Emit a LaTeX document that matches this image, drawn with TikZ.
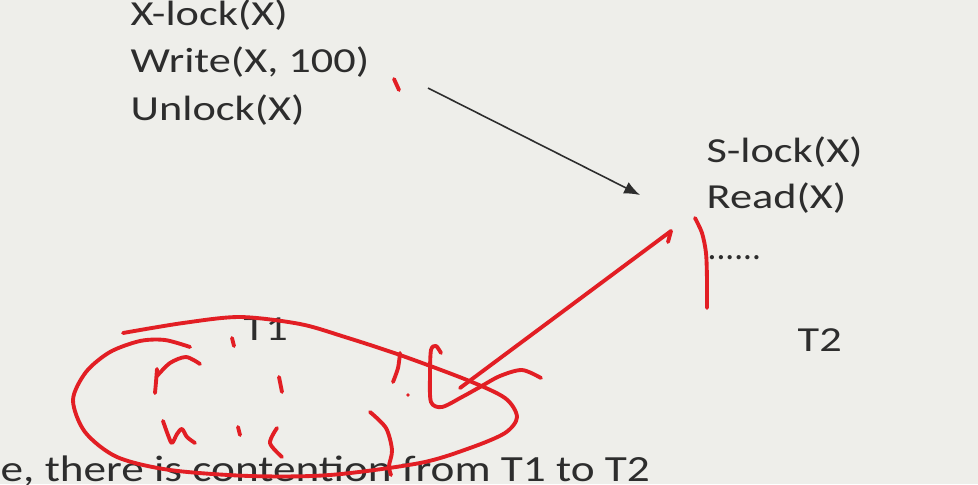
\documentclass[tikz,border=0pt]{standalone}
\usepackage{fontspec}
\setmainfont{Carlito}
\usetikzlibrary{arrows.meta}
\definecolor{slidebg}{RGB}{238,238,234}
\definecolor{slidetext}{RGB}{45,45,45}
\definecolor{ink}{RGB}{226,30,36}
\newcommand{\wide}[1]{\scalebox{1.26}[1]{#1}}
\tikzstyle{arrow} = [line width=0.45pt,-{Latex[length=4.5pt,width=3.6pt]},draw=slidetext]

\begin{document}
\begin{tikzpicture}[
    x=0.01cm, y=-0.01cm,
    every node/.style={inner sep=0pt, anchor=base west, text=slidetext,
        font=\fontsize{10}{12}\selectfont},
    redink/.style={draw=ink, line width=1.1pt, line cap=round, line join=round}
]
\fill[slidebg] (0,0) rectangle (978,484);
\useasboundingbox (0,0) rectangle (978,484);
% T1
\node (xlock) at (130,25) {\wide{X-lock(X)}};
\node (write) at (130,72) {\wide{Write(X, 100)}};
\node (unlock) at (130,120) {\wide{Unlock(X)}};
\node (tone) at (243,340) {\wide{T1}};
% T2
\node (slock) at (706,162) {\wide{S-lock(X)}};
\node (read) at (706,208) {\wide{Read(X)}};
\node (dots) at (707,259) {......};
\node (ttwo) at (797,351) {\wide{T2}};
% caption
\node[font=\fontsize{10.5}{12}\selectfont] (caption) at (0,481)
    {\scalebox{1.225}[1]{e, there is contention from T1 to T2}};
% dependency
\coordinate (wtail) at (428,88);
\coordinate (rtip) at (640,195);
\draw[arrow] (wtail) -- (rtip);

% red ink
\coordinate (inkfrom) at (460,388);
\coordinate (inkto) at (671,231);
\draw[redink] (inkfrom) -- (inkto) -- ++(-3,11);
\draw[redink] plot[smooth] coordinates {(695,218) (702,233) (706,253) (707,280) (707,308)};
\draw[redink] (394,79) -- (399,90);
\draw[redink] plot[smooth] coordinates {(123,333) (183,323) (240,317) (300,324) (345,337)
    (400,355) (467,380) (505,398) (517,417) (505,433) (470,448) (420,463) (330,475)
    (250,476) (170,470) (117,457) (85,432) (73,400) (86,372) (110,352) (140,341)
    (165,340) (190,347)};
\draw[redink] plot[smooth] coordinates {(157,369) (156,382) (155,393)};
\draw[redink] plot[smooth] coordinates {(157,376) (170,363) (186,357) (200,364)};
\draw[redink] plot[smooth] coordinates {(163,421) (168,435) (172,443) (177,434) (182,429) (187,437) (195,443)};
\draw[redink] (232,338) -- (234,346);
\draw[redink] (238,427) -- (240,435);
\draw[redink] (279,377) -- (282,392);
\draw[redink] plot[smooth] coordinates {(277,428) (270,443) (282,457)};
\draw[redink] plot[smooth] coordinates {(370,412) (386,428) (392,450) (389,466) (391,475)};
\draw[redink] plot[smooth] coordinates {(400,353) (398,368) (393,382)};
\fill[ink] (408,395) circle (1.8);
\draw[redink] plot[smooth] coordinates {(441,353) (436,346) (431,350) (430,375) (431,402)
    (442,407) (462,397) (480,387) (500,376) (522,370) (541,378)};
\end{tikzpicture}
\end{document}
